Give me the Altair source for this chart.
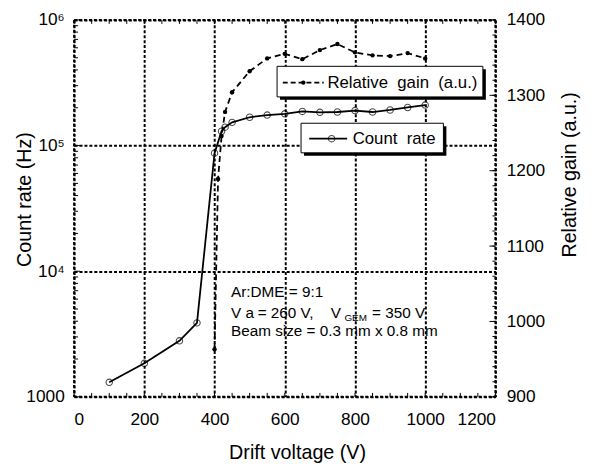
import altair as alt
import pandas as pd

# ---------------- data ----------------
count_voltage = [100, 200, 300, 350, 400, 420, 430, 450, 500, 550, 600, 650,
                 700, 750, 800, 850, 900, 950, 1000]
count_rate = [1305, 1850, 2790, 3880, 87000, 130000, 140000, 153000, 168000,
              175000, 179000, 187000, 184000, 185000, 190000, 185000, 192000,
              201000, 210000]

gain_voltage = [400, 410, 420, 430, 450, 500, 550, 600, 650, 700, 750, 800,
                850, 900, 950, 1000]
relative_gain = [963, 1189, 1246, 1278, 1304, 1332, 1349, 1355, 1348, 1360,
                 1368, 1357, 1353, 1352, 1356, 1349]

x_major = [0, 200, 400, 600, 800, 1000, 1200]
x_minor = list(range(0, 1201, 50))
y_left_major = [1000, 10000, 100000, 1000000]
y_left_minor = [k * 10 ** n for n in (3, 4, 5) for k in range(2, 10)]
y_right_major = [900, 1000, 1100, 1200, 1300, 1400]
y_right_minor = list(range(900, 1401, 20))

# ---------------- layout / style ----------------
W, H = 427, 382
FONT = "Liberation Sans"

count_df = pd.DataFrame({"v": count_voltage, "c": count_rate})
gain_df = pd.DataFrame({"v": gain_voltage, "g": relative_gain})
one = pd.DataFrame({"a": [0]})

xscale = alt.Scale(domain=[0, 1200], nice=False, zero=False)
lscale = alt.Scale(type="log", domain=[1000, 1000000], nice=False)
rscale = alt.Scale(domain=[900, 1400], nice=False, zero=False)

x_axis = alt.Axis(orient="bottom", values=x_major, format="d", grid=True, ticks=False,
                  tickSize=0, domain=False, labelPadding=14, title="Drift voltage (V)",
                  titleX=226, titleY=56, titleBaseline="middle", titleAlign="center")
left_axis = alt.Axis(orient="left", values=y_left_major, grid=True, ticks=False, tickSize=0,
                     domain=False, labelPadding=10,
                     labelExpr="datum.value < 5000 ? '1000' : '10' + (datum.value < 50000 ? '\u2074' : (datum.value < 500000 ? '\u2075' : '\u2076'))",
                     title="Count rate (Hz)", titleAngle=270, titleX=-50, titleY=181.5,
                     titleBaseline="middle", titleAlign="center")
right_axis = alt.Axis(orient="right", values=y_right_major, format="d", grid=False,
                      ticks=False, tickSize=0, domain=False, labelPadding=11,
                      title="Relative gain (a.u.)", titleAngle=270, titleX=75,
                      titleY=156.5, titleBaseline="middle", titleAlign="center")


def X(field):
    return alt.X(field, scale=xscale, axis=x_axis)


# ---------------- series ----------------
count_line = alt.Chart(count_df).mark_line(color="black", strokeWidth=1.8).encode(
    x=X("v:Q"), y=alt.Y("c:Q", scale=lscale, axis=left_axis))
count_pts = alt.Chart(count_df).mark_point(shape="circle", filled=False, size=42,
                                           color="black", strokeWidth=1.1).encode(
    x=X("v:Q"), y=alt.Y("c:Q", scale=lscale, axis=None))
gain_line = alt.Chart(gain_df).mark_line(color="black", strokeWidth=1.8,
                                         strokeDash=[6, 4]).encode(
    x=X("v:Q"), y=alt.Y("g:Q", scale=rscale, axis=right_axis))
gain_pts = alt.Chart(gain_df).mark_point(shape="circle", filled=True, size=20,
                                         color="black", opacity=1).encode(
    x=X("v:Q"), y=alt.Y("g:Q", scale=rscale, axis=None))


# ---------------- inward ticks & frame ----------------
def xticks(vals, y0, y1):
    return alt.Chart(pd.DataFrame({"v": vals})).mark_rule(color="black", strokeWidth=1).encode(
        x=X("v:Q"), y=alt.value(y0), y2=alt.value(y1))


def lticks(vals, length):
    return alt.Chart(pd.DataFrame({"t": vals})).mark_rule(color="black", strokeWidth=1).encode(
        y=alt.Y("t:Q", scale=lscale, axis=None), x=alt.value(0), x2=alt.value(length))


def rticks(vals, length):
    return alt.Chart(pd.DataFrame({"t": vals})).mark_rule(color="black", strokeWidth=1).encode(
        y=alt.Y("t:Q", scale=rscale, axis=None), x=alt.value(W), x2=alt.value(W - length))


ticks = [xticks(x_minor, H, H - 4), xticks(x_minor, 0, 4),
         lticks(y_left_major, 6), lticks(y_left_minor, 4),
         rticks(y_right_minor, 3), rticks(y_right_major, 6)]

frame_style = dict(color="black", strokeWidth=2, strokeDash=[3, 2])
frame = [
    alt.Chart(one).mark_rule(**frame_style).encode(x=alt.value(0), x2=alt.value(W), y=alt.value(0)),
    alt.Chart(one).mark_rule(**frame_style).encode(x=alt.value(0), x2=alt.value(W), y=alt.value(H)),
    alt.Chart(one).mark_rule(**frame_style).encode(y=alt.value(0), y2=alt.value(H), x=alt.value(0)),
    alt.Chart(one).mark_rule(**frame_style).encode(y=alt.value(0), y2=alt.value(H), x=alt.value(W)),
]


# ---------------- legend boxes & annotation ----------------
def box(x0, y0, x1, y1):
    shadow = alt.Chart(one).mark_rect(fill="black").encode(
        x=alt.value(x0 + 3), x2=alt.value(x1 + 3), y=alt.value(y0 + 3), y2=alt.value(y1 + 3))
    face = alt.Chart(one).mark_rect(fill="white", stroke="black", strokeWidth=1).encode(
        x=alt.value(x0), x2=alt.value(x1), y=alt.value(y0), y2=alt.value(y1))
    return [shadow, face]


def txt(s, x, y, size=15.5, baseline="alphabetic"):
    return alt.Chart(one).mark_text(align="left", baseline=baseline, font=FONT,
                                    fontSize=size, color="black").encode(
        x=alt.value(x), y=alt.value(y), text=alt.value(s))


legend = []
legend += box(205.7, 47, 414.3, 78)
legend.append(alt.Chart(one).mark_rule(color="black", strokeWidth=1.8, strokeDash=[5, 3]).encode(
    x=alt.value(211.5), x2=alt.value(253), y=alt.value(63.5)))
legend.append(alt.Chart(one).mark_point(shape="circle", filled=True, size=20, color="black",
                                        opacity=1).encode(x=alt.value(232.3), y=alt.value(63.5)))
legend.append(txt("Relative\u00a0 gain\u00a0 (a.u.)", 256.7, 63.5, 17, "middle"))

legend += box(230, 104.7, 374.3, 134.7)
legend.append(alt.Chart(one).mark_rule(color="black", strokeWidth=1.8).encode(
    x=alt.value(238.3), x2=alt.value(276.7), y=alt.value(120.3)))
legend.append(alt.Chart(one).mark_point(shape="circle", filled=False, size=42, color="black",
                                        strokeWidth=1.1).encode(x=alt.value(261), y=alt.value(120.3)))
legend.append(txt("Count\u00a0 rate", 282.3, 120.3, 17, "middle"))

annot = [
    txt("Ar:DME = 9:1", 159, 280.3),
    txt("V a", 159, 302.5),
    txt("= 260 V,", 186, 302.5),
    txt("V", 260, 302.5),
    txt("GEM", 274, 305.5, 10),
    txt("= 350 V", 302, 302.5),
    txt("Beam size = 0.3 mm x 0.8 mm", 159, 320),
]

chart = alt.layer(count_line, gain_line, *frame, *ticks, count_pts, gain_pts,
                  *legend, *annot).resolve_scale(
    y="independent"
).properties(
    width=W, height=H,
    autosize=alt.AutoSizeParams(type="none"),
    padding={"left": 67, "top": 9, "right": 106, "bottom": 68},
).configure_view(
    stroke=None
).configure_axis(
    labelFont=FONT, labelFontSize=17.5, labelColor="black",
    titleFont=FONT, titleFontSize=20, titleFontWeight="normal", titleColor="black",
    gridColor="black", gridDash=[3, 2], gridWidth=2, gridOpacity=1,
)

chart.save("out.html", embed_options={"renderer": "svg", "actions": False})
